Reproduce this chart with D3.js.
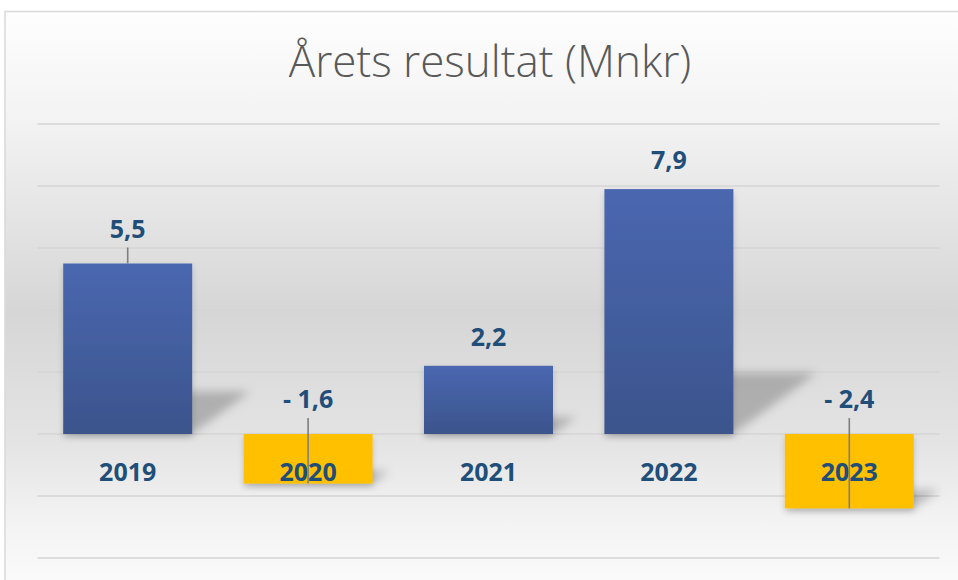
<!DOCTYPE html>
<html>
<head>
<meta charset="utf-8">
<script src="https://cdn.jsdelivr.net/npm/d3@7"></script>
<style>
  body { margin: 0; background: #ffffff; }
  svg { display: block; }
</style>
</head>
<body>
<script>
// Chart data
const years = ["2019", "2020", "2021", "2022", "2023"];
const results = [5.5, -1.6, 2.2, 7.9, -2.4];
const labels = ["5,5", "- 1,6", "2,2", "7,9", "- 2,4"];
const gridTicks = [-4, -2, 0, 2, 4, 6, 8, 10];

const W = 958, H = 580;

const svg = d3.select("body")
    .append("svg")
    .attr("width", W)
    .attr("height", H);

const defs = svg.append("defs");

// background gradient of the chart area
const bg = defs.append("linearGradient")
    .attr("id", "bgGrad")
    .attr("x1", 0).attr("y1", 0).attr("x2", 0).attr("y2", 1);
bg.append("stop").attr("offset", "0%").attr("stop-color", "#fefefe");
bg.append("stop").attr("offset", "18%").attr("stop-color", "#f3f3f3");
bg.append("stop").attr("offset", "50%").attr("stop-color", "#d6d6d6");
bg.append("stop").attr("offset", "72%").attr("stop-color", "#e4e4e4");
bg.append("stop").attr("offset", "85%").attr("stop-color", "#f3f3f3");
bg.append("stop").attr("offset", "100%").attr("stop-color", "#fefefe");

// bar gradient
const barGrad = defs.append("linearGradient")
    .attr("id", "barGrad")
    .attr("x1", 0).attr("y1", 0).attr("x2", 0).attr("y2", 1);
barGrad.append("stop").attr("offset", "0%").attr("stop-color", "#4a67b0");
barGrad.append("stop").attr("offset", "100%").attr("stop-color", "#3c548c");

// blur for the perspective shadows
defs.append("filter")
    .attr("id", "blur")
    .attr("x", "-50%").attr("y", "-50%").attr("width", "200%").attr("height", "200%")
    .append("feGaussianBlur")
    .attr("stdDeviation", 5);

const soft = defs.append("filter")
    .attr("id", "soft")
    .attr("x", "-20%").attr("y", "-20%").attr("width", "140%").attr("height", "160%");
soft.append("feGaussianBlur").attr("in", "SourceAlpha").attr("stdDeviation", 3);
soft.append("feOffset").attr("dy", 3).attr("result", "off");
soft.append("feComponentTransfer").append("feFuncA").attr("type", "linear").attr("slope", 0.18);
const merge = soft.append("feMerge");
merge.append("feMergeNode");
merge.append("feMergeNode").attr("in", "SourceGraphic");

// chart area frame
svg.append("rect")
    .attr("x", 5)
    .attr("y", 11.5)
    .attr("width", 1000)
    .attr("height", 600)
    .attr("fill", "url(#bgGrad)")
    .attr("stroke", "#d9d9d9")
    .attr("stroke-width", 1.5);

// title
svg.append("text")
    .attr("x", 490)
    .attr("y", 77)
    .attr("text-anchor", "middle")
    .style("font-family", "'Open Sans', 'Noto Sans', sans-serif")
    .style("font-weight", 300)
    .style("font-size", "44px")
    .style("fill", "#595959")
    .text("Årets resultat (Mnkr)");

// scales
const x = d3.scaleBand()
    .domain(years)
    .range([37.5, 939.5])
    .paddingInner(0.285)
    .paddingOuter(0.1425);

const y = d3.scaleLinear()
    .domain([-4, 10])
    .range([558, 124]);

// gridlines
svg.append("g")
    .selectAll("line")
    .data(gridTicks)
    .join("line")
    .attr("x1", 37.5)
    .attr("x2", 939.5)
    .attr("y1", d => y(d))
    .attr("y2", d => y(d))
    .attr("stroke", "#d5d5d5")
    .attr("stroke-width", 1.6);

const data = years.map((yr, i) => ({ year: yr, value: results[i], label: labels[i] }));

// perspective shadows, anchored at the lower edge of each bar
svg.append("g")
    .attr("filter", "url(#blur)")
    .selectAll("path")
    .data(data)
    .join("path")
    .attr("d", d => {
        const x0 = x(d.year), x1 = x0 + x.bandwidth();
        const top = y(Math.max(d.value, 0)), bot = y(Math.min(d.value, 0));
        const h = bot - top;
        const dx = h * 0.34, dh = h * 0.25;
        return `M${x0},${bot}L${x1},${bot}L${x1 + dx},${bot - dh}L${x0 + dx},${bot - dh}Z`;
    })
    .attr("fill", "#000")
    .attr("fill-opacity", 0.22);

// bars
svg.append("g")
    .selectAll("rect")
    .data(data)
    .join("rect")
    .attr("x", d => x(d.year))
    .attr("y", d => y(Math.max(d.value, 0)))
    .attr("width", x.bandwidth())
    .attr("height", d => Math.abs(y(d.value) - y(0)))
    .attr("fill", d => d.value >= 0 ? "url(#barGrad)" : "#ffc000")
    .attr("filter", "url(#soft)");

// category labels
svg.append("g")
    .selectAll("text")
    .data(data)
    .join("text")
    .attr("x", d => x(d.year) + x.bandwidth() / 2)
    .attr("y", 481)
    .attr("text-anchor", "middle")
    .style("font-family", "'Open Sans', 'Noto Sans', sans-serif")
    .style("font-weight", 700)
    .style("font-size", "25px")
    .style("fill", "#1f4e79")
    .text(d => d.year);

// data label positions (baseline)
function labelY(d, i) {
    if (d.value < 0) return y(0) - 26;
    return y(d.value) - (i === 0 ? 26 : 20);
}

// leader lines
svg.append("g")
    .selectAll("line")
    .data(data.filter((d, i) => y(d.value) - labelY(d, i) > 22))
    .join("line")
    .attr("x1", d => x(d.year) + x.bandwidth() / 2)
    .attr("x2", d => x(d.year) + x.bandwidth() / 2)
    .attr("y1", d => labelY(d, data.indexOf(d)) + 10)
    .attr("y2", d => y(d.value))
    .attr("stroke", "#7f7f7f")
    .attr("stroke-width", 1.6);

// value labels
svg.append("g")
    .selectAll("text")
    .data(data)
    .join("text")
    .attr("x", d => x(d.year) + x.bandwidth() / 2)
    .attr("y", (d, i) => labelY(d, i))
    .attr("text-anchor", "middle")
    .style("font-family", "'Open Sans', 'Noto Sans', sans-serif")
    .style("font-weight", 700)
    .style("font-size", "25px")
    .style("fill", "#1f4e79")
    .text(d => d.label);
</script>
</body>
</html>
